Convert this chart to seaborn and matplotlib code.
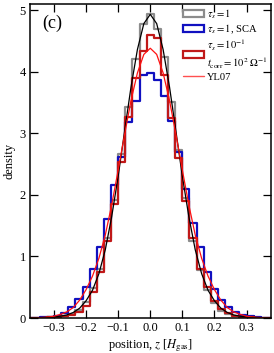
import numpy as np
import pandas as pd
import matplotlib
matplotlib.use("Agg")
import matplotlib.pyplot as plt
import seaborn as sns
from matplotlib.patches import Patch
from matplotlib.lines import Line2D

# Datos
bin_width = 0.0222
bin_index = np.arange(-17, 18)

gray_hist = [0.0, 0.003, 0.006, 0.01, 0.02, 0.04, 0.07, 0.13, 0.26, 0.48, 0.80, 1.30,
             1.92, 2.67, 3.43, 4.21, 4.78, 4.93, 4.69, 4.23, 3.50, 2.72, 1.95, 1.25,
             0.78, 0.45, 0.25, 0.12, 0.07, 0.04, 0.02, 0.01, 0.006, 0.003, 0.0]
blue_hist = [0.0, 0.005, 0.01, 0.02, 0.04, 0.09, 0.18, 0.31, 0.50, 0.79, 1.16, 1.60,
             2.16, 2.61, 3.18, 3.53, 3.95, 3.98, 3.87, 3.61, 3.20, 2.69, 2.10, 1.55,
             1.16, 0.75, 0.47, 0.29, 0.18, 0.10, 0.05, 0.03, 0.01, 0.005, 0.0]
red_hist = [0.0, 0.003, 0.005, 0.01, 0.01, 0.03, 0.05, 0.10, 0.20, 0.42, 0.75, 1.25,
            1.85, 2.53, 3.27, 3.90, 4.34, 4.59, 4.55, 3.95, 3.24, 2.60, 1.90, 1.30,
            0.80, 0.50, 0.28, 0.15, 0.08, 0.04, 0.02, 0.01, 0.005, 0.003, 0.0]

# curvas (valores cada 0.02)
z_curve = np.round(np.arange(-0.38, 0.381, 0.02), 2)
black_half = [4.93, 4.78, 4.36, 3.75, 3.03, 2.30, 1.65, 1.11, 0.72, 0.45, 0.28,
              0.16, 0.09, 0.05, 0.03, 0.02, 0.012, 0.007, 0.004, 0.002]
yl07_half = [4.38, 4.28, 3.98, 3.53, 2.98, 2.40, 1.84, 1.35, 0.97, 0.68, 0.46,
             0.29, 0.17, 0.10, 0.06, 0.03, 0.015, 0.008, 0.004, 0.002]
black_curve = black_half[:0:-1] + black_half
yl07_curve = yl07_half[:0:-1] + yl07_half

labels = [r"$\tau_s = 1$", r"$\tau_s = 1$, SCA",
          "$\\tau_s = 10^{-1}$\n$t_{\\rm corr} = 10^{2}\\ \\Omega^{-1}$", "YL07"]

# Estilo
sns.set_theme(style="ticks")
plt.rcParams["font.family"] = ["Liberation Serif", "DejaVu Serif"]
plt.rcParams["mathtext.fontset"] = "stix"
plt.rcParams["xtick.direction"] = "in"
plt.rcParams["ytick.direction"] = "in"
plt.rcParams["axes.edgecolor"] = "black"
plt.rcParams["xtick.color"] = "black"
plt.rcParams["ytick.color"] = "black"
plt.rcParams["text.color"] = "black"
plt.rcParams["axes.labelcolor"] = "black"

centers = bin_index * bin_width
edges = list(np.append(centers - bin_width / 2, centers[-1] + bin_width / 2))

hist_df = pd.DataFrame({"z": centers, "gray": gray_hist, "blue": blue_hist, "red": red_hist})
curve_df = pd.DataFrame({"z": z_curve, "black": black_curve, "yl07": yl07_curve})

fig = plt.figure(figsize=(2.74, 3.53), dpi=100)
ax = fig.add_axes([0.109, 0.099, 0.88, 0.89])

sns.histplot(data=hist_df, x="z", weights="gray", bins=edges, element="step", fill=False,
             color="#8c8c8c", linewidth=1.6, ax=ax)
sns.histplot(data=hist_df, x="z", weights="blue", bins=edges, element="step", fill=False,
             color="#1010c0", linewidth=1.6, ax=ax)
sns.histplot(data=hist_df, x="z", weights="red", bins=edges, element="step", fill=False,
             color="#c01818", linewidth=1.6, ax=ax)
sns.lineplot(data=curve_df, x="z", y="black", color="black", linewidth=0.9, ax=ax)
sns.lineplot(data=curve_df, x="z", y="yl07", color="#ff1010", linewidth=0.9, ax=ax)

ax.set_xlim(-0.375, 0.376)
ax.set_ylim(0, 5.1)
ax.set_xticks([-0.3, -0.2, -0.1, 0.0, 0.1, 0.2, 0.3])
ax.set_yticks([0, 1, 2, 3, 4, 5])
ax.tick_params(top=True, right=True, length=5.5, width=0.9, labelsize=9, pad=3)
for s in ax.spines.values():
    s.set_linewidth(1.1)
ax.set_xlabel(r"position, $z$ [$H_{\rm gas}$]", fontsize=9, labelpad=2)
ax.set_ylabel("density", fontsize=9, labelpad=3)
ax.text(0.05, 0.925, "(c)", transform=ax.transAxes, fontsize=13)

handles = [Patch(facecolor="none", edgecolor="#8c8c8c", linewidth=1.6),
           Patch(facecolor="none", edgecolor="#1010c0", linewidth=1.6),
           Patch(facecolor="none", edgecolor="#c01818", linewidth=1.6),
           Line2D([], [], color="#ff5050", linewidth=1.0)]
ax.legend(handles, labels, loc="upper right", frameon=False, fontsize=7.6,
          handlelength=2.0, handleheight=0.6, handletextpad=0.25, labelspacing=0.2,
          borderaxespad=0.1, borderpad=0.2)

fig.savefig("out.png", dpi=100)
